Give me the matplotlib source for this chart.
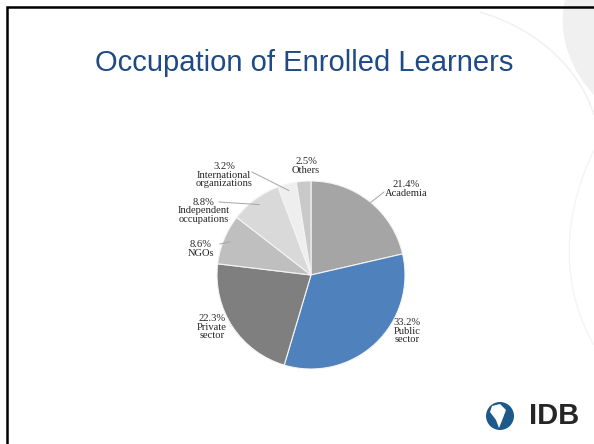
import numpy as np
import matplotlib.pyplot as plt
from matplotlib.patches import Circle, PathPatch, Polygon
from matplotlib.path import Path

# Data
categories = ["Academia", "Public\nsector", "Private\nsector", "NGOs",
              "Independent\noccupations", "International\norganizations", "Others"]
shares = [21.4, 33.2, 22.3, 8.6, 8.8, 3.2, 2.5]
colors = ["#a5a5a5", "#4f81bd", "#7f7f7f", "#bfbfbf", "#d9d9d9", "#eeeeee", "#c9c9c9"]

W, H = 594, 444
fig = plt.figure(figsize=(W / 100, H / 100), dpi=100)
ax = fig.add_axes([0, 0, 1, 1])


def py(y):
    """Pixel row (from top) to data y."""
    return H - y


# Pie
cx, cy, r = 311, py(275), 94
wedges, _ = ax.pie(shares, colors=colors, startangle=90, counterclock=False,
                   center=(cx, cy), radius=r, frame=True,
                   wedgeprops=dict(edgecolor='#f4f4f4', linewidth=0.8))
ax.set_xlim(0, W)
ax.set_ylim(0, H)
ax.set_aspect('equal')
ax.axis('off')

# Background decoration (light grey swoosh top right)
verts = [(565, py(0)), (556, py(40)), (575, py(75)), (594, py(95)),
         (594, py(0)), (565, py(0))]
codes = [Path.MOVETO, Path.CURVE4, Path.CURVE4, Path.CURVE4, Path.LINETO, Path.CLOSEPOLY]
ax.add_patch(PathPatch(Path(verts, codes), facecolor='#f0f0f0', edgecolor='none', zorder=0))
line = Path([(480, py(12)), (540, py(30)), (580, py(70)), (594, py(115))],
            [Path.MOVETO, Path.CURVE4, Path.CURVE4, Path.CURVE4])
ax.add_patch(PathPatch(line, facecolor='none', edgecolor='#f0f0f0', lw=1.0, zorder=0))
line2 = Path([(594, py(150)), (560, py(220)), (562, py(290)), (594, py(345))],
             [Path.MOVETO, Path.CURVE4, Path.CURVE4, Path.CURVE4])
ax.add_patch(PathPatch(line2, facecolor='none', edgecolor='#f4f4f4', lw=1.0, zorder=0))

# Slide frame (top and left edges)
ax.plot([7, 7, W], [0, py(7), py(7)], color='black', lw=1.8, solid_joinstyle='miter', zorder=5)

# Title
ax.text(304, py(63), "Occupation of Enrolled Learners", ha='center', va='center',
        fontsize=21, color='#1f4a85', family='Liberation Sans')

# Label layout: (x, y of text, leader start or None)
label_pos = [
    (406, 189, (384, 192)),
    (407, 331, None),
    (212, 327, None),
    (201, 249, (220, 244)),
    (204, 211, (219, 202)),
    (224, 175, (252, 172)),
    (306, 166, None),
]
for w, cat, val, (tx, ty, lead) in zip(wedges, categories, shares, label_pos):
    ax.text(tx, py(ty), f"{val}%\n{cat}", ha='center', va='center', fontsize=7.6,
            family='Liberation Serif', color='#262626', linespacing=0.9)
    if lead is not None:
        mid = np.deg2rad((w.theta1 + w.theta2) / 2)
        ex, ey = cx + r * 0.93 * np.cos(mid), cy + r * 0.93 * np.sin(mid)
        ax.plot([lead[0], ex], [py(lead[1]), ey], color='#a6a6a6', lw=0.7, zorder=3)

# IDB logo
ax.add_patch(Circle((500, py(416)), 14, facecolor='#1d5a8a', edgecolor='none', zorder=4))
shape = [(492, py(406)), (500, py(404)), (506, py(410)), (503, py(418)),
         (499, py(428)), (496, py(420)), (490, py(412))]
ax.add_patch(Polygon(shape, closed=True, facecolor='white', edgecolor='none', zorder=5))
ax.text(554, py(416), "IDB", ha='center', va='center', fontsize=21, fontweight='bold',
        color='#262626', family='Liberation Sans')

fig.savefig("out.png", dpi=100)
